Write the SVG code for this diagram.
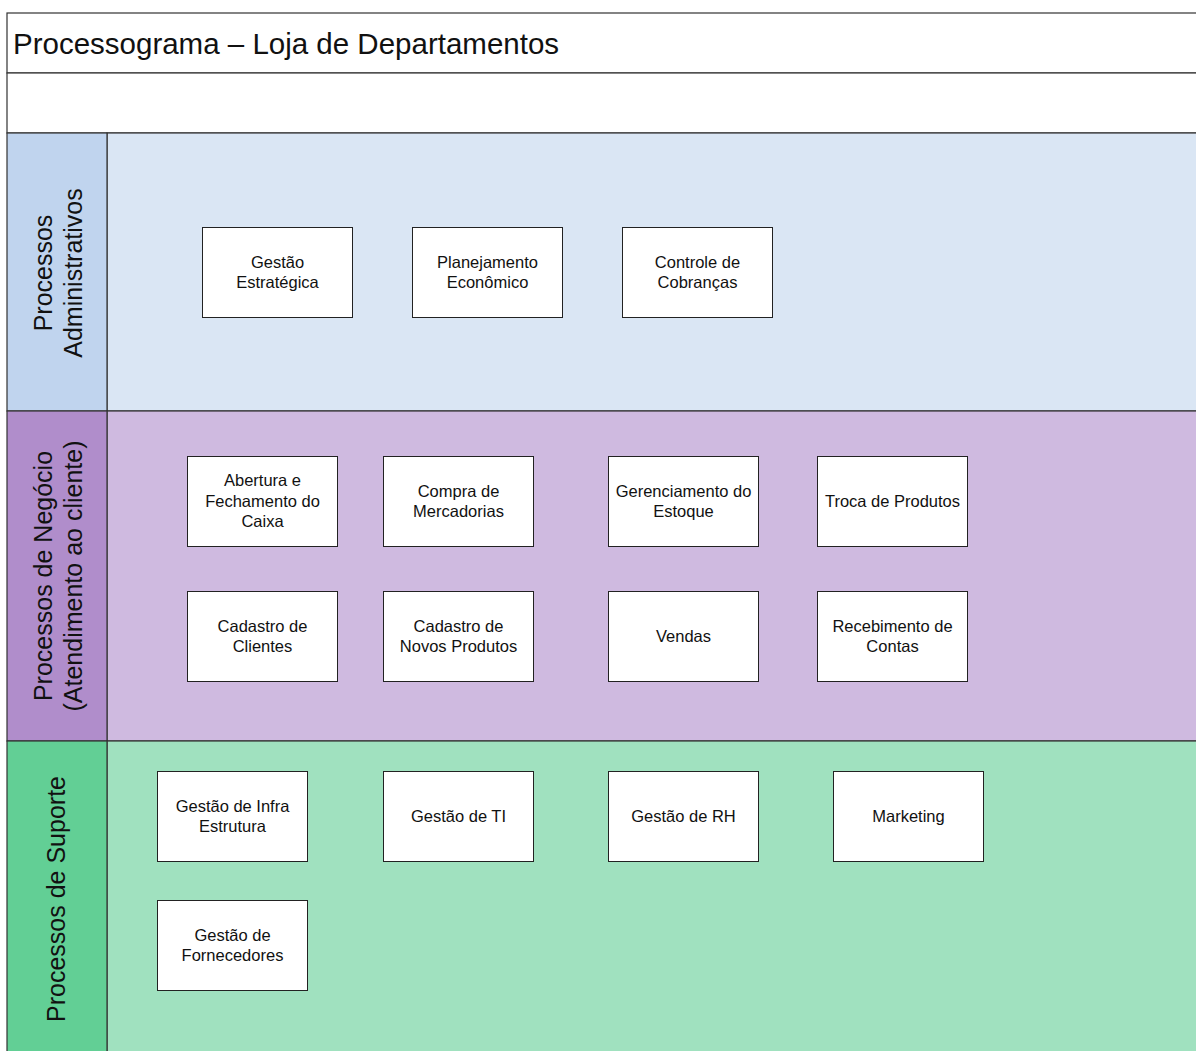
<svg xmlns="http://www.w3.org/2000/svg" width="1196" height="1051" viewBox="0 0 1196 1051">
<style>
.lane{stroke:#333;stroke-width:1.2}
.box{fill:#fff;stroke:#222;stroke-width:1}
.t{font-family:"Liberation Sans",Arial,sans-serif;font-size:16.5px;fill:#111;text-anchor:middle}
.lt{font-family:"Liberation Sans",Arial,sans-serif;font-size:25px;fill:#111;text-anchor:middle}
.title{font-family:"Liberation Sans",Arial,sans-serif;font-size:29.5px;fill:#111}
</style>
<rect width="1196" height="1051" fill="#fff"/>
<g id="pool">
<rect class="lane" x="7" y="13" width="1200" height="60" fill="#fff"/>
<text class="title" x="13" y="53.5">Processograma – Loja de Departamentos</text>
<rect class="lane" x="7" y="73" width="1200" height="60" fill="#fff"/>
</g>
<g id="lane-admin">
<rect class="lane" x="107" y="133" width="1100" height="278" fill="#DAE6F4"/>
<rect class="lane" x="7" y="133" width="100" height="278" fill="#C0D4EE"/>
<text class="lt" transform="translate(51.5,273) rotate(-90)">Processos</text>
<text class="lt" transform="translate(82,273) rotate(-90)">Administrativos</text>
</g>
<g id="lane-negocio">
<rect class="lane" x="107" y="411" width="1100" height="330" fill="#CFBAE0"/>
<rect class="lane" x="7" y="411" width="100" height="330" fill="#B08DCB"/>
<text class="lt" transform="translate(51.5,576) rotate(-90)">Processos de Negócio</text>
<text class="lt" transform="translate(82,576) rotate(-90)">(Atendimento ao cliente)</text>
</g>
<g id="lane-suporte">
<rect class="lane" x="107" y="741" width="1100" height="320" fill="#A0E1BF"/>
<rect class="lane" x="7" y="741" width="100" height="320" fill="#62CF95"/>
<text class="lt" transform="translate(65,899) rotate(-90)">Processos de Suporte</text>
</g>
<g id="connectors"></g>
<g id="n-gestao-estrategica"><rect class="box" x="202.5" y="227.5" width="150" height="90"/><text class="t" x="277.5" y="268">Gestão</text><text class="t" x="277.5" y="288">Estratégica</text></g>
<g id="n-planejamento"><rect class="box" x="412.5" y="227.5" width="150" height="90"/><text class="t" x="487.5" y="268">Planejamento</text><text class="t" x="487.5" y="288">Econômico</text></g>
<g id="n-controle"><rect class="box" x="622.5" y="227.5" width="150" height="90"/><text class="t" x="697.5" y="268">Controle de</text><text class="t" x="697.5" y="288">Cobranças</text></g>

<g id="n-abertura"><rect class="box" x="187.5" y="456.5" width="150" height="90"/><text class="t" x="262.5" y="486">Abertura e</text><text class="t" x="262.5" y="507">Fechamento do</text><text class="t" x="262.5" y="527">Caixa</text></g>
<g id="n-compra"><rect class="box" x="383.5" y="456.5" width="150" height="90"/><text class="t" x="458.5" y="496.5">Compra de</text><text class="t" x="458.5" y="517">Mercadorias</text></g>
<g id="n-estoque"><rect class="box" x="608.5" y="456.5" width="150" height="90"/><text class="t" x="683.5" y="496.5">Gerenciamento do</text><text class="t" x="683.5" y="517">Estoque</text></g>
<g id="n-troca"><rect class="box" x="817.5" y="456.5" width="150" height="90"/><text class="t" x="892.5" y="507">Troca de Produtos</text></g>

<g id="n-cad-clientes"><rect class="box" x="187.5" y="591.5" width="150" height="90"/><text class="t" x="262.5" y="632">Cadastro de</text><text class="t" x="262.5" y="652">Clientes</text></g>
<g id="n-cad-produtos"><rect class="box" x="383.5" y="591.5" width="150" height="90"/><text class="t" x="458.5" y="632">Cadastro de</text><text class="t" x="458.5" y="652">Novos Produtos</text></g>
<g id="n-vendas"><rect class="box" x="608.5" y="591.5" width="150" height="90"/><text class="t" x="683.5" y="642">Vendas</text></g>
<g id="n-recebimento"><rect class="box" x="817.5" y="591.5" width="150" height="90"/><text class="t" x="892.5" y="632">Recebimento de</text><text class="t" x="892.5" y="652">Contas</text></g>

<g id="n-infra"><rect class="box" x="157.5" y="771.5" width="150" height="90"/><text class="t" x="232.5" y="812">Gestão de Infra</text><text class="t" x="232.5" y="832">Estrutura</text></g>
<g id="n-ti"><rect class="box" x="383.5" y="771.5" width="150" height="90"/><text class="t" x="458.5" y="822">Gestão de TI</text></g>
<g id="n-rh"><rect class="box" x="608.5" y="771.5" width="150" height="90"/><text class="t" x="683.5" y="822">Gestão de RH</text></g>
<g id="n-marketing"><rect class="box" x="833.5" y="771.5" width="150" height="90"/><text class="t" x="908.5" y="822">Marketing</text></g>
<g id="n-fornecedores"><rect class="box" x="157.5" y="900.5" width="150" height="90"/><text class="t" x="232.5" y="941">Gestão de</text><text class="t" x="232.5" y="961">Fornecedores</text></g>
</svg>
